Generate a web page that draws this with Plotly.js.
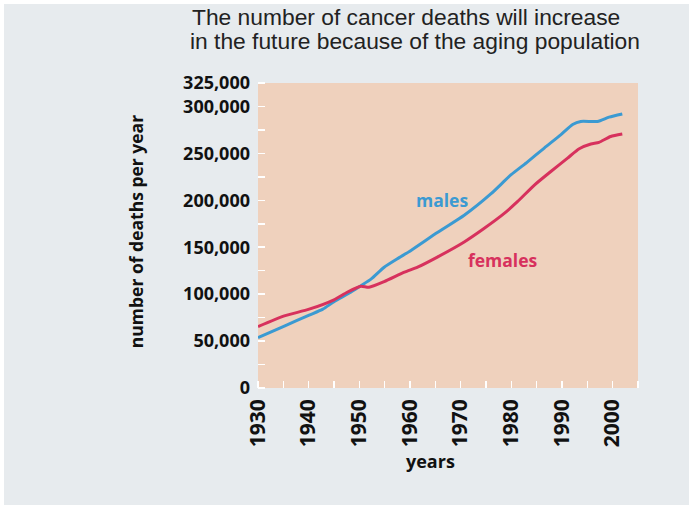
<!DOCTYPE html>
<html><head><meta charset="utf-8">
<script src="https://cdn.plot.ly/plotly-3.0.1.min.js"></script>
<style>html,body{margin:0;padding:0;background:#fff;overflow:hidden}
#chart{position:absolute;left:4px;top:4px;width:685px;height:501px}</style>
</head><body><div id="chart"></div><script>
const maleYears = [1930, 1935.2, 1940.1, 1942.8, 1945, 1948.3, 1950.3, 1952.3, 1954.9, 1957.5, 1960.2, 1965.4, 1970.7, 1976, 1979.9, 1983.2, 1986.5, 1989.8, 1992.1, 1993.7, 1997, 1999.3, 2001.9];
const maleDeaths = [53600, 66000, 77600, 84000, 91900, 102000, 109000, 116000, 128700, 137700, 146600, 165600, 184000, 207000, 227000, 241000, 255700, 270000, 280700, 284000, 284000, 288600, 292000];
const femaleYears = [1930, 1935.2, 1940.1, 1945, 1947.6, 1950.3, 1951.9, 1954.9, 1958.9, 1961.5, 1965.4, 1970.7, 1974.6, 1978.6, 1981.2, 1984.5, 1987.8, 1991.1, 1993.4, 1995.7, 1997.3, 1999.6, 2001.9];
const femaleDeaths = [65400, 76800, 84000, 94000, 102000, 108400, 107300, 113300, 123400, 128800, 139500, 155600, 169900, 186000, 198500, 216000, 230700, 245000, 255000, 260000, 261800, 268000, 270700];
const yTickVals = [0, 50000, 100000, 150000, 200000, 250000, 300000, 325000];
const yTickText = ['0', '50,000', '100,000', '150,000', '200,000', '250,000', '300,000', '325,000'];
const xTickVals = [1930, 1940, 1950, 1960, 1970, 1980, 1990, 2000];
const xTickText = ['1930', '1940', '1950', '1960', '1970', '1980', '1990', '2000'];

const BLUE = '#3b9ad2', RED = '#d7315d';
const boldFont = 'Open Sans, Noto Sans, sans-serif';
const traces = [
  {x: maleYears, y: maleDeaths, mode: 'lines', line: {color: BLUE, width: 3, shape: 'spline', smoothing: 0.6}, name: 'males', hoverinfo: 'none'},
  {x: femaleYears, y: femaleDeaths, mode: 'lines', line: {color: RED, width: 3, shape: 'spline', smoothing: 0.6}, name: 'females', hoverinfo: 'none'}
];
const layout = {
  width: 685, height: 501,
  margin: {l: 254, r: 51, t: 79, b: 117},
  paper_bgcolor: '#e7ebee', plot_bgcolor: '#efd1bd',
  showlegend: false,
  xaxis: {
    range: [1930, 2005], tickmode: 'array', tickvals: xTickVals, ticktext: xTickText,
    tickangle: -90, ticks: '', showgrid: false, zeroline: false, showline: false,
    ticklabelstandoff: 6,
    tickfont: {family: boldFont, size: 21, color: '#111', weight: 'bold'},
    minor: {tick0: 1930, dtick: 5, ticks: 'inside', ticklen: 7, tickcolor: '#ffffff', tickwidth: 1.5, showgrid: false}
  },
  yaxis: {
    range: [0, 325000], tickmode: 'array', tickvals: yTickVals, ticktext: yTickText,
    ticks: '', showgrid: false, zeroline: false, showline: false,
    ticklabelstandoff: 7,
    tickfont: {family: boldFont, size: 18, color: '#111', weight: 'bold'},
    minor: {tick0: 0, dtick: 25000, ticks: 'inside', ticklen: 7, tickcolor: '#ffffff', tickwidth: 1.5, showgrid: false}
  },
  annotations: [
    {xref: 'paper', yref: 'paper', x: -0.179, y: 1.218, xanchor: 'left', yanchor: 'middle', align: 'left', showarrow: false,
     text: 'The number of cancer deaths will increase',
     font: {family: 'Liberation Sans, Arial, sans-serif', size: 22.8, color: '#222'}},
    {xref: 'paper', yref: 'paper', x: -0.184, y: 1.139, xanchor: 'left', yanchor: 'middle', align: 'left', showarrow: false,
     text: 'in the future because of the aging population',
     font: {family: 'Liberation Sans, Arial, sans-serif', size: 22.8, color: '#222'}},
    {xref: 'paper', yref: 'paper', x: 0.455, y: -0.24, xanchor: 'center', yanchor: 'middle', showarrow: false, text: 'years',
     font: {family: boldFont, size: 18, color: '#111', weight: 'bold'}},
    {xref: 'paper', yref: 'paper', x: -0.321, y: 0.511, xanchor: 'center', yanchor: 'middle', showarrow: false, textangle: -90, text: 'number of deaths per year',
     font: {family: boldFont, size: 17.5, color: '#111', weight: 'bold'}},
    {xref: 'paper', yref: 'paper', x: 0.484, y: 0.616, xanchor: 'center', yanchor: 'middle', showarrow: false, text: 'males',
     font: {family: boldFont, size: 17.5, color: BLUE, weight: 'bold'}},
    {xref: 'paper', yref: 'paper', x: 0.645, y: 0.42, xanchor: 'center', yanchor: 'middle', showarrow: false, text: 'females',
     font: {family: boldFont, size: 17.5, color: RED, weight: 'bold'}}
  ]
};
Plotly.newPlot('chart', traces, layout, {displayModeBar: false, staticPlot: true});
</script></body></html>
